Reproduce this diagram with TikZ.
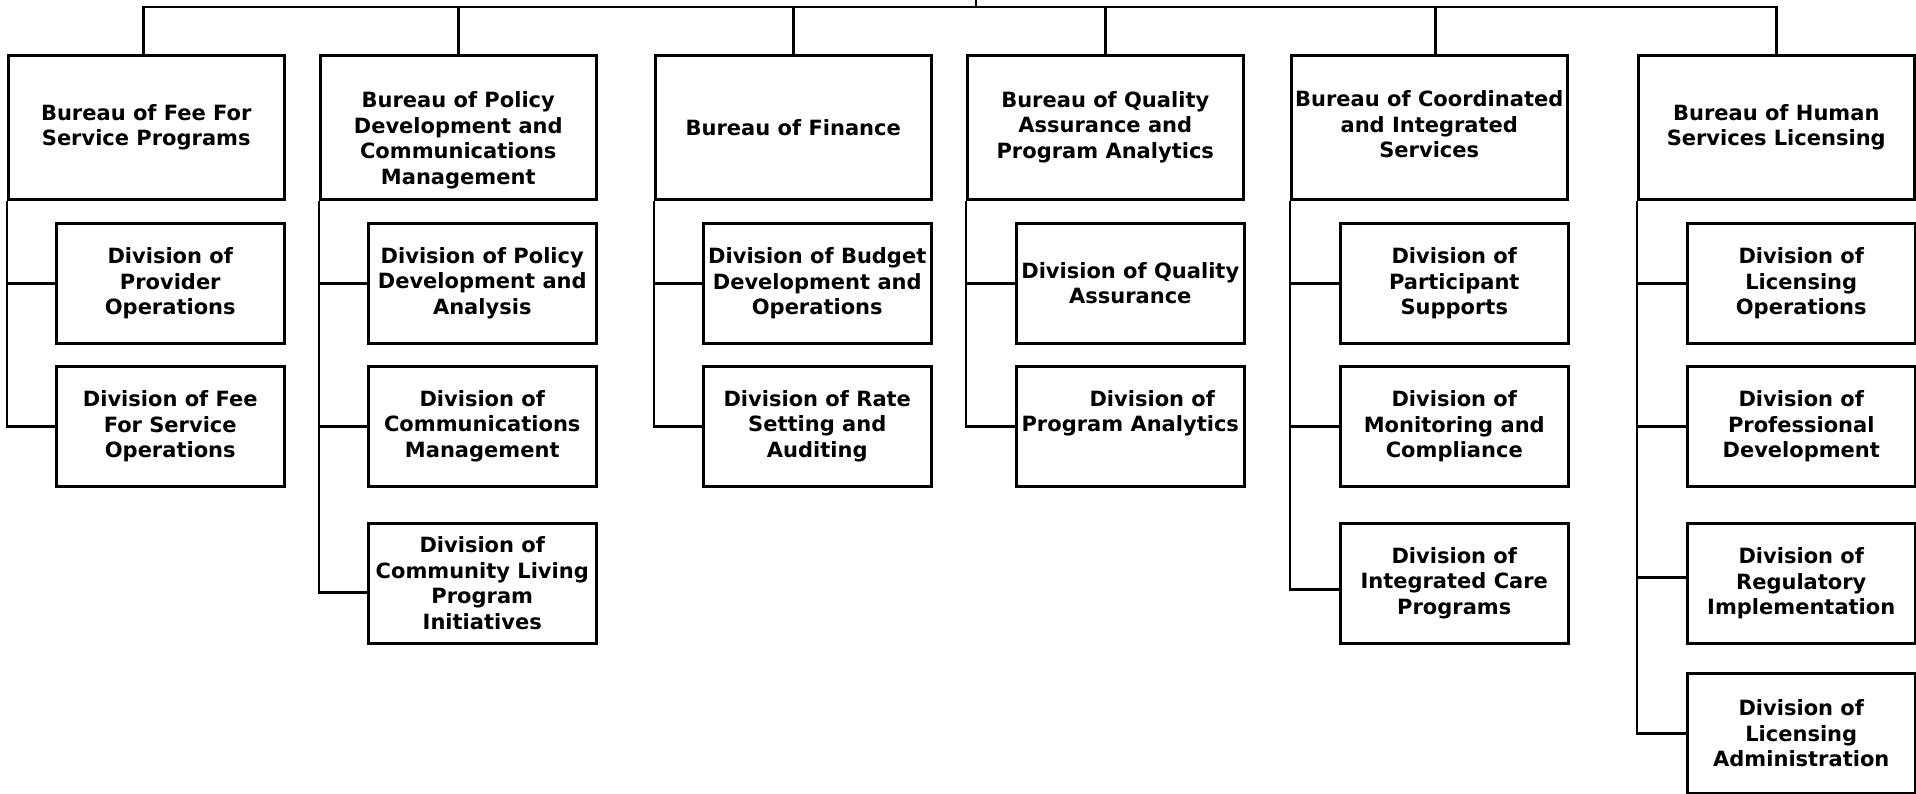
\documentclass[tikz,border=0pt]{standalone}
\usepackage{fontspec}
\setmainfont{DejaVu Sans}
\begin{document}
\begin{tikzpicture}[x=0.5pt,y=-0.5pt,
  every path/.style={line width=1.25pt},
  boxtext/.style={align=center,font=\fontsize{10.5pt}{12.85pt}\selectfont\bfseries,inner sep=0pt},
  bureau/.style={draw,line width=1.25pt,boxtext,minimum width=138pt,minimum height=72pt,anchor=north west},
  division/.style={draw,line width=1.25pt,boxtext,minimum width=114pt,minimum height=60pt,anchor=north west}]
\useasboundingbox (0,0) rectangle (1916,793);
\coordinate (root) at (976,0);
\coordinate (bar) at (0,7);
% bureaus
\node[bureau] (b1) at (7,54) {Bureau of Fee For\\Service Programs};
\node[bureau] (b2) at (319,54) {};
\node[boxtext] (b2t) at ([yshift=-6.5pt]b2.center) {Bureau of Policy\\Development and\\Communications\\Management};
\node[bureau] (b3) at (654,54) {Bureau of Finance};
\node[bureau] (b4) at (966,54) {Bureau of Quality\\Assurance and\\Program Analytics};
\node[bureau] (b5) at (1290,54) {};
\node[boxtext] (b5t) at ([yshift=1.5pt]b5.center) {Bureau of Coordinated\\and Integrated\\Services};
\node[bureau] (b6) at (1637,54) {Bureau of Human\\Services Licensing};
% divisions col 1
\node[division] (d11) at (55,222) {Division of\\Provider\\Operations};
\node[division] (d12) at (55,365) {Division of Fee\\For Service\\Operations};
% col 2
\node[division] (d21) at (367,222) {Division of Policy\\Development and\\Analysis};
\node[division] (d22) at (367,365) {Division of\\Communications\\Management};
\node[division] (d23) at (367,522) {Division of\\Community Living\\Program\\Initiatives};
% col 3
\node[division] (d31) at (702,222) {Division of Budget\\Development and\\Operations};
\node[division] (d32) at (702,365) {Division of Rate\\Setting and\\Auditing};
% col 4
\node[division] (d41) at (1015,222) {Division of Quality\\Assurance};
\node[division] (d42) at (1015,365) {};
\node[boxtext] (d42t) at ([yshift=6.5pt]d42.center) {\hspace*{22pt}Division of\\Program Analytics};
% col 5
\node[division] (d51) at (1339,222) {Division of\\Participant\\Supports};
\node[division] (d52) at (1339,365) {Division of\\Monitoring and\\Compliance};
\node[division] (d53) at (1339,522) {Division of\\Integrated Care\\Programs};
% col 6
\node[division] (d61) at (1686,222) {Division of\\Licensing\\Operations};
\node[division] (d62) at (1686,365) {Division of\\Professional\\Development};
\node[division] (d63) at (1686,522) {Division of\\Regulatory\\Implementation};
\node[division] (d64) at (1686,672) {Division of\\Licensing\\Administration};
% top bar
\draw[line cap=rect] (root) -- (root |- bar);
\coordinate (c1) at ([xshift=-1.5pt]b1.north);
\coordinate (c5) at ([xshift=3pt]b5.north);
\draw (c1) -- (c1 |- bar) -- (b6.north |- bar) -- (b6.north);
\draw (b2.north) -- (b2.north |- bar);
\draw (b3.north) -- (b3.north |- bar);
\draw (b4.north) -- (b4.north |- bar);
\draw (c5) -- (c5 |- bar);
% spines
\draw (b1.south west) |- (d12.west);
\draw (b1.south west |- d11.west) -- (d11.west);
\coordinate (e23) at ([yshift=-4.5pt]d23.west);
\draw (b2.south west) |- (e23);
\draw (b2.south west |- d21.west) -- (d21.west);
\draw (b2.south west |- d22.west) -- (d22.west);
\draw (b3.south west) |- (d32.west);
\draw (b3.south west |- d31.west) -- (d31.west);
\draw (b4.south west) |- (d42.west);
\draw (b4.south west |- d41.west) -- (d41.west);
\coordinate (e53) at ([yshift=-3pt]d53.west);
\draw (b5.south west) |- (e53);
\draw (b5.south west |- d51.west) -- (d51.west);
\draw (b5.south west |- d52.west) -- (d52.west);
\coordinate (e63) at ([yshift=3pt]d63.west);
\draw (b6.south west) |- (d64.west);
\draw (b6.south west |- d61.west) -- (d61.west);
\draw (b6.south west |- d62.west) -- (d62.west);
\draw (b6.south west |- e63) -- (e63);
\end{tikzpicture}
\end{document}
